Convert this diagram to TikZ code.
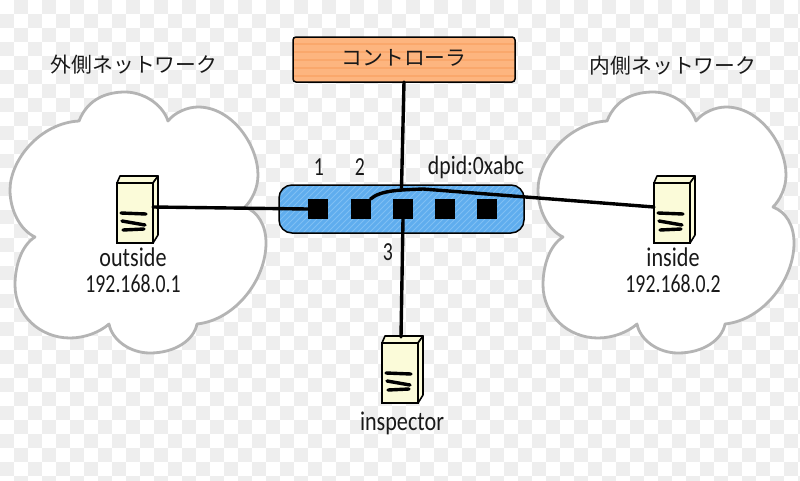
\documentclass[tikz,border=0pt]{standalone}
\usepackage{fontspec}
\setmainfont[FakeStretch=0.82]{Carlito}
\newfontfamily\digitfont[FakeStretch=0.76]{Carlito}
\newfontfamily\jpfont{Noto Sans CJK JP}
\definecolor{chk}{HTML}{EEEEEE}
\definecolor{cloudline}{HTML}{B4B4B4}
\definecolor{creamfill}{HTML}{FBFBD9}
\definecolor{orangefill}{HTML}{FDB57F}
\definecolor{orangeband}{HTML}{FAA86C}
\definecolor{bluefill}{HTML}{5FADEE}
\definecolor{blueband}{HTML}{7FBFF3}
\tikzset{
  cloudshape/.style={draw=cloudline,line width=2.8pt,fill=white,line join=round},
  lbl/.style={inner sep=0pt,outer sep=0pt,font=\fontsize{27}{28}\selectfont,text=black!90},
  dpidlbl/.style={inner sep=0pt,outer sep=0pt,font=\fontsize{26.5}{30}\selectfont,text=black!90},
  numlbl/.style={inner sep=0pt,outer sep=0pt,font=\digitfont\fontsize{26}{28}\selectfont,text=black!90},
  jplbl/.style={inner sep=0pt,outer sep=0pt,font=\jpfont\fontsize{20.8}{24}\selectfont,text=black!90},
  link/.style={draw=black,line width=3.4pt,line cap=round},
  portbox/.style={rectangle,fill=black,minimum size=20pt,inner sep=0pt,outer sep=0pt},
  srvfront/.style={rectangle,draw=black,line width=1.6pt,fill=creamfill,minimum width=36pt,minimum height=60pt,inner sep=0pt,outer sep=0pt},
  srvpart/.style={draw=black,line width=1.6pt,fill=creamfill,line join=round},
  srvbar/.style={draw=black,line width=3.4pt,line cap=round},
}
\newcommand{\cloudpath}{
  (79,121)
  .. controls (88,98) and (108,92) .. (125,92)
  .. controls (142,92) and (162,103) .. (168,121)
  .. controls (175,112) and (188,107) .. (198,107)
  .. controls (232,107) and (258,145) .. (258,175)
  .. controls (258,188) and (252,200) .. (245,207)
  .. controls (258,212) and (266,225) .. (266,243)
  .. controls (266,280) and (235,320) .. (197,324)
  .. controls (194,340) and (175,353) .. (150,353)
  .. controls (130,353) and (112,340) .. (109,324)
  .. controls (100,332) and (85,338) .. (70,338)
  .. controls (40,338) and (15,315) .. (15,285)
  .. controls (15,265) and (22,245) .. (35,237)
  .. controls (20,230) and (10,210) .. (10,190)
  .. controls (10,160) and (40,123) .. (79,121) -- cycle}
\newcommand{\serverbox}[3]{
  \begin{scope}[shift={(#2,#3)}]
    \filldraw[srvpart] (0,0) -- (3,-7) -- (41,-7) -- (36,0) -- cycle;
    \filldraw[srvpart] (36,0) -- (41,-7) -- (41,52) -- (36,60) -- cycle;
    \node[srvfront] (#1) at (18,30) {};
    \coordinate (#1-l) at (0,24);
    \coordinate (#1-r) at (36,24);
    \coordinate (#1-t) at (19,-6);
    \draw[srvbar] (4,30) -- (29,31);
    \draw[srvbar] (5,38) -- (28,42);
    \draw[srvbar] (6,47) -- (27,46);
  \end{scope}
}
\begin{document}
\begin{tikzpicture}[x=1pt,y=-1pt]
\useasboundingbox (0,0) rectangle (800,480);
\fill[white] (0,0) rectangle (800,480);
\foreach \i in {0,28,...,798}{
  \foreach \j in {14,42,...,478}{
    \fill[chk] (\i,\j) rectangle ++(14,14);
  }
}
\foreach \i in {14,42,...,798}{
  \foreach \j in {0,28,...,478}{
    \fill[chk] (\i,\j) rectangle ++(14,14);
  }
}
\path[cloudshape] \cloudpath;
\begin{scope}[xshift=528pt]
\path[cloudshape] \cloudpath;
\end{scope}
\node[jplbl] (outernet) at (134,65) {外側ネットワーク};
\node[jplbl] (innernet) at (673,66) {内側ネットワーク};
\node[rectangle,rounded corners=3pt,draw=black,line width=1.5pt,fill=orangefill,
  minimum width=222pt,minimum height=45pt,inner sep=0pt,outer sep=0pt,
  path picture={
    \foreach \d in {6,14,22,30,38}{
      \draw[orangeband,line width=2pt] ([yshift=\d pt]path picture bounding box.south west) -- ([yshift=\d pt]path picture bounding box.south east);
    }
  }] (ctrl) at (404,59.5) {};
\node[jplbl] (ctrltext) at (404,58) {コントローラ};
\node[rectangle,rounded corners=13pt,draw=black,line width=1.5pt,fill=bluefill,
  minimum width=245pt,minimum height=48pt,inner sep=0pt,outer sep=0pt,
  path picture={
    \foreach \d in {-48,-42,...,245}{
      \draw[blueband,line width=0.8pt] ([xshift=\d pt]path picture bounding box.south west) -- ++(48pt,48pt);
    }
  }] (sw) at (401.5,209) {};
\node[portbox] (p1) at (318,209) {};
\node[portbox] (p2) at (360.5,209) {};
\node[portbox] (p3) at (403,209) {};
\node[portbox] (p4) at (445,209) {};
\node[portbox] (p5) at (487,209) {};
\serverbox{outside}{117}{183}
\serverbox{inside}{654}{183}
\serverbox{inspector}{382}{343}
\draw[link] (ctrl.south) -- ([yshift=-3pt]sw.north);
\draw[link] (outside-r) -- (p1.west);
\draw[link] (p3.south) -- (inspector-t);
\draw[link] (p2.north east) .. controls (381,190) and (400,190) .. (423,189) -- (inside-l);
\node[numlbl] (n1) at (319,167) {1};
\node[numlbl] (n2) at (360,167) {2};
\node[numlbl] (n3) at (388,252) {3};
\node[dpidlbl] (dpid) at (476,167) {dpid:0xabc};
\node[lbl] (outname) at (133,257) {outside};
\node[numlbl] (outip) at (133,284) {192.168.0.1};
\node[lbl] (inname) at (673,257) {inside};
\node[numlbl] (inip) at (673,284) {192.168.0.2};
\node[lbl] (inspname) at (402,423) {inspector};
\end{tikzpicture}
\end{document}
